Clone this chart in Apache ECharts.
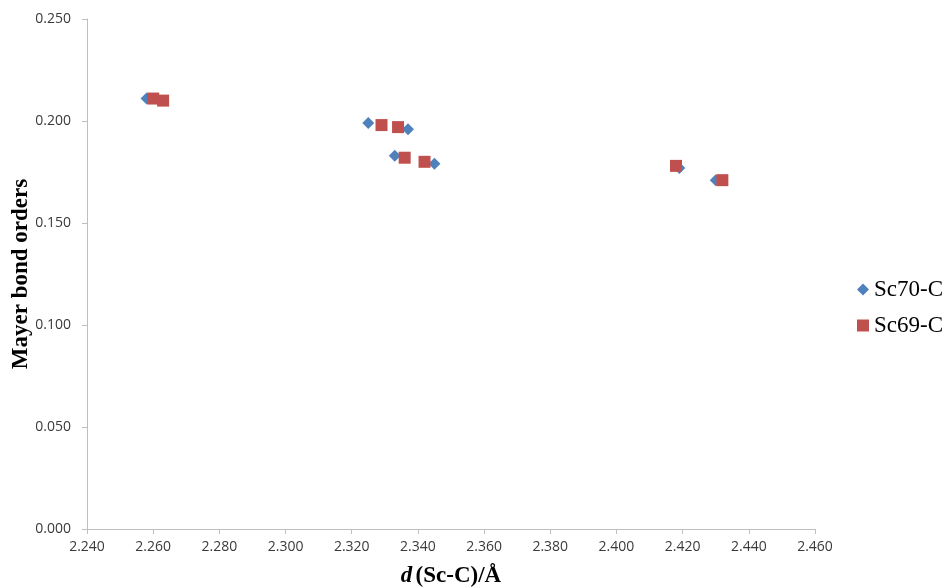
<!DOCTYPE html>
<html><head><meta charset="utf-8">
<script src="https://cdn.jsdelivr.net/npm/echarts@6/dist/echarts.min.js"></script>
<style>html,body{margin:0;padding:0;background:#fff}#c{width:946px;height:588px}</style>
</head><body><div id="c"></div>
<script>
const seriesNames = ['Sc70-C', 'Sc69-C'];
const sc70X = [2.258, 2.325, 2.337, 2.333, 2.345, 2.419, 2.430];
const sc70Y = [0.211, 0.199, 0.196, 0.183, 0.179, 0.177, 0.171];
const sc69X = [2.260, 2.263, 2.329, 2.334, 2.336, 2.342, 2.418, 2.432];
const sc69Y = [0.211, 0.210, 0.198, 0.197, 0.182, 0.180, 0.178, 0.171];
const xTicks = [2.24, 2.26, 2.28, 2.30, 2.32, 2.34, 2.36, 2.38, 2.40, 2.42, 2.44, 2.46];
const yTicks = [0, 0.05, 0.10, 0.15, 0.20, 0.25];

const zip = (xs, ys) => xs.map((x, i) => [x, ys[i]]);
const chart = echarts.init(document.getElementById('c'), null, {renderer: 'canvas'});
const axisLine = {show: true, lineStyle: {color: '#bfbfbf', width: 1}};
const tickFont = {color: '#3a3a3a', fontSize: 14, fontFamily: 'Open Sans, sans-serif'};
chart.setOption({
  animation: false,
  backgroundColor: '#fff',
  grid: {left: 87, right: 131, top: 19, bottom: 59, containLabel: false, outerBoundsMode: 'none'},
  legend: {
    orient: 'vertical', left: 857, top: 278, padding: 0, itemWidth: 12, itemHeight: 12, itemGap: 13,
    textStyle: {fontFamily: 'Liberation Serif, serif', fontSize: 23, color: '#000'},
    data: [{name: seriesNames[0], icon: 'diamond'}, {name: seriesNames[1], icon: 'rect'}]
  },
  xAxis: {
    type: 'value', min: xTicks[0], max: xTicks[xTicks.length - 1], interval: 0.02,
    axisLine: axisLine, axisTick: {show: true, inside: false, length: 5, lineStyle: {color: '#bfbfbf'}},
    splitLine: {show: false},
    axisLabel: Object.assign({margin: 11, formatter: v => v.toFixed(3)}, tickFont),
    name: '{i|d} {b|(Sc-C)/Å}', nameLocation: 'middle', nameGap: 36,
    nameTextStyle: {rich: {
      i: {fontFamily: 'Liberation Serif, serif', fontSize: 23, fontWeight: 'bold', fontStyle: 'italic', color: '#000'},
      b: {fontFamily: 'Liberation Serif, serif', fontSize: 23, fontWeight: 'bold', color: '#000'}
    }}
  },
  yAxis: {
    type: 'value', min: yTicks[0], max: yTicks[yTicks.length - 1], interval: 0.05,
    axisLine: axisLine, axisTick: {show: true, inside: false, length: 5, lineStyle: {color: '#bfbfbf'}},
    splitLine: {show: false},
    axisLabel: Object.assign({margin: 16, formatter: v => v.toFixed(3)}, tickFont),
    name: 'Mayer bond orders', nameLocation: 'middle', nameGap: 54, nameMoveOverlap: false,
    nameTextStyle: {fontFamily: 'Liberation Serif, serif', fontSize: 23, fontWeight: 'bold', color: '#000'}
  },
  series: [
    {name: seriesNames[0], type: 'scatter', symbol: 'diamond', symbolSize: 12,
     itemStyle: {color: '#4F81BD', opacity: 1}, data: zip(sc70X, sc70Y)},
    {name: seriesNames[1], type: 'scatter', symbol: 'rect', symbolSize: 12,
     itemStyle: {color: '#C0504D', opacity: 1}, data: zip(sc69X, sc69Y)}
  ]
});
</script></body></html>
